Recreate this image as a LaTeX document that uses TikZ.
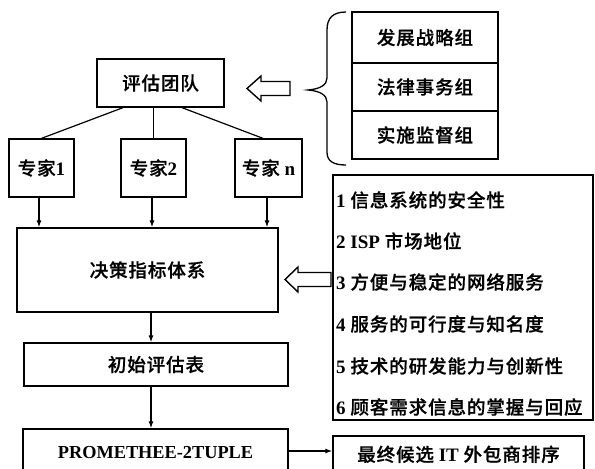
\documentclass[tikz,border=0pt]{standalone}
\usepackage{fontspec}
\setmainfont{Liberation Serif}
\newfontfamily\cjk{Noto Sans CJK SC Medium}[LetterSpace=5, FakeBold=0.7]
\newcommand\zh[1]{{\cjk\mdseries\fontsize{18.5pt}{21pt}\selectfont #1}}
\usetikzlibrary{arrows.meta}
\tikzset{
  box/.style={draw, line width=1.3pt, inner sep=0pt, font=\fontsize{19pt}{21pt}\selectfont\bfseries},
  crit/.style={anchor=west, inner sep=0pt, font=\fontsize{19pt}{21pt}\selectfont\bfseries},
  link/.style={line width=1.2pt},
  arr/.style={line width=1.2pt, -{Latex[length=7pt,width=5pt]}},
  hollow/.style={draw, line width=1.4pt, line join=miter, fill=white},
  bracepath/.style={draw, line width=1.3pt}
}
\begin{document}
\begin{tikzpicture}[x=1pt,y=-1pt]
\clip (0,0) rectangle (595,469);
\fill[white] (0,0) rectangle (595,469);

% team
\node[box, minimum width=127pt, minimum height=48pt] (team) at (160.5,83) {\zh{评估团队}};

% groups
\node[box, minimum width=146pt, minimum height=51pt] (g1) at (425,37.5) {\zh{发展战略组}};
\node[box, minimum width=146pt, minimum height=48pt] (g2) at (425,87) {\zh{法律事务组}};
\node[box, minimum width=146pt, minimum height=48pt] (g3) at (425,135) {\zh{实施监督组}};

% brace
\draw[bracepath] (346,12) .. controls (333,12) and (327,18) .. (327,30)
  -- (327,78) .. controls (327,85) and (320,89) .. (308,90)
  .. controls (320,91) and (327,95) .. (327,102)
  -- (327,152) .. controls (327,161) and (333,165) .. (346,165);

% hollow arrow 1
\draw[hollow] (247,88.5) -- (261,76) -- (261,81.5) -- (290,81.5) -- (290,95.5) -- (261,95.5) -- (261,101) -- cycle;

% experts
\node[box, minimum width=65pt, minimum height=58pt] (e1) at (41.5,168) {\zh{专家}1};
\node[box, minimum width=65pt, minimum height=58pt] (e2) at (153.5,168) {\zh{专家}2};
\node[box, minimum width=67pt, minimum height=58pt] (en) at (268.5,168) {\zh{专家} n};

\draw[link] ([xshift=-37.5pt]team.south) -- (e1.north);
\draw[link] (team.south -| e2.north) -- (e2.north);
\draw[link] ([xshift=21.5pt]team.south) -- ([xshift=-5.5pt]en.north);

% decision system
\node[box, minimum width=261pt, minimum height=84pt] (dec) at (147.5,270) {\zh{决策指标体系}};

\draw[arr] ([xshift=-2.5pt]e1.south) -- ([xshift=-2.5pt]e1.south |- dec.north);
\draw[arr] ([xshift=-1.5pt]e2.south) -- ([xshift=-1.5pt]e2.south |- dec.north);
\draw[arr] ([xshift=-1.5pt]en.south) -- ([xshift=-1.5pt]en.south |- dec.north);

% criteria
\node[box, minimum width=260pt, minimum height=245pt] (crit) at (463,297.5) {};
\node[crit] (c1) at (336,200) {1 \zh{信息系统的安全性}};
\node[crit] (c2) at (336,241) {2 ISP \zh{市场地位}};
\node[crit] (c3) at (336,282) {3 \zh{方便与稳定的网络服务}};
\node[crit] (c4) at (336,324) {4 \zh{服务的可行度与知名度}};
\node[crit] (c5) at (336,366) {5 \zh{技术的研发能力与创新性}};
\node[crit] (c6) at (336,407) {6 \zh{顾客需求信息的掌握与回应}};

% hollow arrow 2
\draw[hollow] (285,279.5) -- (298,267) -- (298,272.5) -- (331,272.5) -- (331,286.5) -- (298,286.5) -- (298,292) -- cycle;

% initial table
\node[box, minimum width=264pt, minimum height=43pt] (init) at (156,364.5) {\zh{初始评估表}};
\draw[arr] ([xshift=3.5pt]dec.south) -- ([xshift=3.5pt]dec.south |- init.north);

% PROMETHEE
\node[box, minimum width=265pt, minimum height=51pt, font=\fontsize{18.3pt}{22pt}\selectfont\bfseries] (prom) at (155.5,454.5) {\raisebox{3.5pt}{PROMETHEE-2TUPLE}};
\draw[arr] ([xshift=-5pt]init.south) -- ([xshift=-5pt]init.south |- prom.north);

% final
\node[box, minimum width=251pt, minimum height=40pt] (final) at (458.5,456) {\raisebox{5pt}{\zh{最终候选} IT \zh{外包商排序}}};
\draw[arr] ([yshift=3.5pt]prom.east) -- ([yshift=3.5pt]prom.east -| final.west);
\end{tikzpicture}
\end{document}
